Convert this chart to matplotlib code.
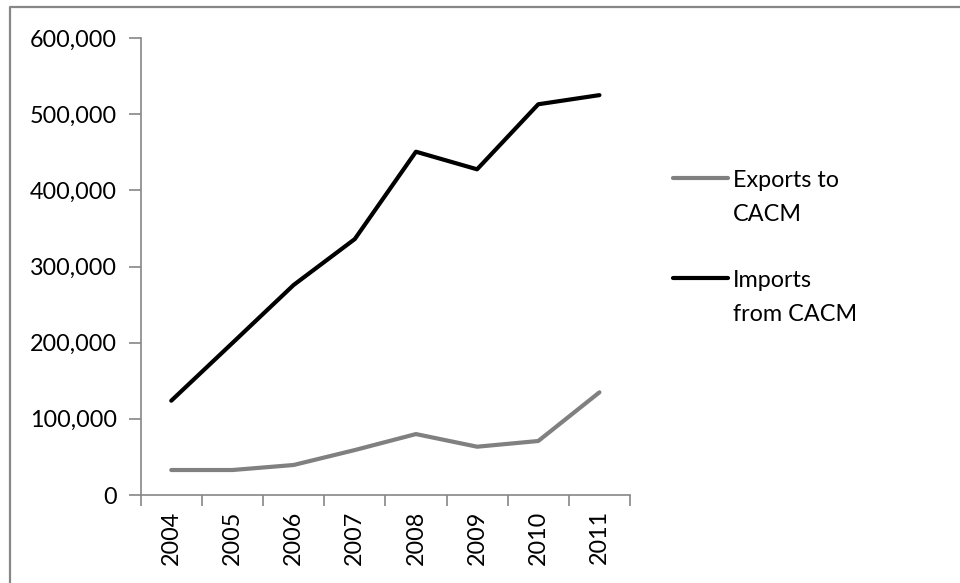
import matplotlib
matplotlib.use("Agg")
import matplotlib.pyplot as plt
from matplotlib.lines import Line2D
from matplotlib.legend_handler import HandlerLine2D
from matplotlib.ticker import FuncFormatter, FixedLocator

years = ["2004", "2005", "2006", "2007", "2008", "2009", "2010", "2011"]
exports = [32800, 32800, 39400, 59000, 80000, 63400, 70900, 134800]
imports = [123800, 199600, 275700, 336000, 450700, 427600, 513000, 525000]
series_names = ["Exports to\nCACM", "Imports\nfrom CACM"]
yticks = [0, 100000, 200000, 300000, 400000, 500000, 600000]

plt.rcParams['font.family'] = ['Lato', 'DejaVu Sans']
FS = 16.8
AXC = "#868686"

fig = plt.figure(figsize=(9.6, 5.83), dpi=100)
ax = fig.add_axes([140.7/960, 1-495/583, (630-140.7)/960, (495-38)/583])

x = list(range(len(years)))
ax.plot(x, exports, color="#808080", lw=3.0, solid_capstyle="round", solid_joinstyle="round", label=series_names[0])
ax.plot(x, imports, color="#000000", lw=3.0, solid_capstyle="round", solid_joinstyle="round", label=series_names[1])

ax.set_xlim(-0.5, len(years) - 0.5)
ax.set_ylim(0, 600000)
ax.set_yticks(yticks)
ax.yaxis.set_major_formatter(FuncFormatter(lambda v, p: f"{int(v):,}"))
ax.set_xticks(x)
ax.set_xticklabels(years, rotation=90, fontsize=FS)
ax.xaxis.set_minor_locator(FixedLocator([i - 0.5 for i in range(len(years) + 1)]))
ax.tick_params(axis="x", which="major", length=0, pad=11)
ax.tick_params(axis="x", which="minor", length=8, width=1.2, color=AXC)
ax.tick_params(axis="y", which="major", length=9, width=1.2, color=AXC, labelsize=FS, pad=8)
for s in ["top", "right"]:
    ax.spines[s].set_visible(False)
for s in ["left", "bottom"]:
    ax.spines[s].set_color(AXC)
    ax.spines[s].set_linewidth(1.2)

SHIFT = 29

class UpHandler(HandlerLine2D):
    def create_artists(self, legend, orig_handle, xdescent, ydescent, width, height, fontsize, trans):
        return super().create_artists(legend, orig_handle, xdescent, ydescent - SHIFT, width, height, fontsize, trans)

leg = ax.legend(loc="upper left", bbox_to_anchor=(673/960, 1-170/583), bbox_transform=fig.transFigure,
                frameon=False, fontsize=FS, handlelength=2.35, handletextpad=0.22, labelspacing=1.95,
                borderpad=0, borderaxespad=0, handler_map={Line2D: UpHandler()})
for t in leg.get_texts():
    t.set_linespacing(1.75)

# outer chart border
fig.add_artist(Line2D([10/960, 10/960, 1.0], [0.0, 1-7/583, 1-7/583], transform=fig.transFigure,
                      color="#878787", lw=1.6))

fig.savefig("out.png", dpi=100)
